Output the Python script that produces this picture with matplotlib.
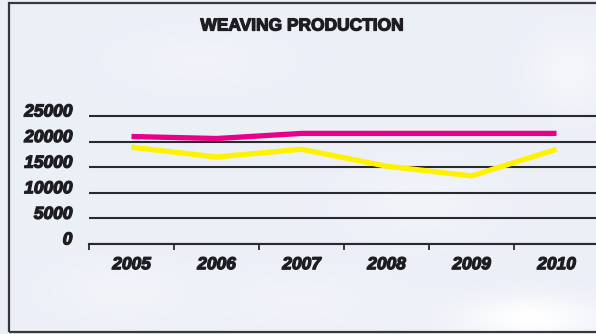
import numpy as np
import matplotlib
matplotlib.use("Agg")
import matplotlib.pyplot as plt
import matplotlib.patheffects as pe
from matplotlib.patches import Rectangle
from matplotlib.transforms import ScaledTranslation

# --- DATA ---
years = ["2005", "2006", "2007", "2008", "2009", "2010"]
series_pink = [21000, 20600, 21600, 21600, 21600, 21600]
series_yellow = [18900, 17000, 18500, 15200, 13300, 18500]
y_ticks = [0, 5000, 10000, 15000, 20000, 25000]
title = "WEAVING PRODUCTION"

W, H, DPI = 596, 334, 100
TXT = "#1e1e22"
heavy = [pe.withStroke(linewidth=0.9, foreground=TXT)]

fig = plt.figure(figsize=(W / DPI, H / DPI), dpi=DPI)

# --- sky-like background with a few soft cloud patches ---
bg = fig.add_axes([0, 0, 1, 1], zorder=-10)
yy, xx = np.mgrid[0:H, 0:W]
base = np.array([0.925, 0.938, 0.968])
light = np.zeros((H, W))
for cx, cy, sx, sy, a in [(530, 318, 70, 22, 1.0), (570, 70, 40, 40, 0.45),
                          (300, 300, 90, 30, 0.25), (200, 60, 80, 30, 0.25),
                          (420, 200, 70, 40, 0.3), (120, 290, 70, 30, 0.3)]:
    light += a * np.exp(-(((xx - cx) / sx) ** 2 + ((yy - cy) / sy) ** 2))
light = np.clip(light, 0, 1)[..., None]
img = base * (1 - light) + light
bg.imshow(img, extent=[0, W, H, 0], aspect="auto")
bg.set_xlim(0, W)
bg.set_ylim(H, 0)
bg.axis("off")

# outer frame
fig.patches.append(Rectangle((8.5 / W, 2.5 / H), 1.0, (331.5 - 2.5) / H,
                             transform=fig.transFigure, fill=False,
                             edgecolor="#38383c", lw=1.6, zorder=5))

# --- chart area ---
px_per_unit = 128 / 25000
ax_bottom = 244
ax_top = 100
ymax = (ax_bottom - ax_top) / px_per_unit
ax = fig.add_axes([89 / W, (H - ax_bottom) / H, 510 / W, (ax_bottom - ax_top) / H])
ax.patch.set_alpha(0)

x = np.arange(len(years))
ax.plot(x, series_yellow, color="#fff200", lw=3.8,
        solid_capstyle="butt", solid_joinstyle="miter", zorder=3)
ax.plot(x, series_pink, color="#e8008a", lw=3.8,
        solid_capstyle="butt", solid_joinstyle="miter", zorder=3)

ax.set_xlim(-0.5, 5.5)
ax.set_ylim(0, ymax)

for s in ["top", "right", "left"]:
    ax.spines[s].set_visible(False)
ax.spines["bottom"].set_color("#2a2a2e")
ax.spines["bottom"].set_linewidth(1.5)

ax.set_yticks(y_ticks)
ax.set_yticklabels([str(v) for v in y_ticks])
ax.yaxis.grid(True, color="#2a2a2e", lw=1.5)
ax.tick_params(axis="y", length=0, pad=12)
for lbl in ax.get_yticklabels():
    lbl.set_transform(lbl.get_transform() + ScaledTranslation(0, 4 / 72, fig.dpi_scale_trans))

ax.set_xticks(x)
ax.set_xticklabels(years)
ax.set_xticks(np.arange(-0.5, 6, 1), minor=True)
ax.tick_params(axis="x", which="major", length=0, pad=9.5)
ax.tick_params(axis="x", which="minor", length=4, width=1.3, color="#2a2a2e")

for lbl in ax.get_yticklabels() + ax.get_xticklabels():
    lbl.set_fontfamily("Liberation Sans")
    lbl.set_fontweight("bold")
    lbl.set_fontstyle("italic")
    lbl.set_fontsize(12.5)
    lbl.set_color(TXT)
    lbl.set_path_effects(heavy)

fig.text(302 / W, 1 - 26 / H, title, ha="center", va="center",
         fontfamily="Liberation Sans", fontweight="bold", fontsize=12.5,
         color=TXT, path_effects=heavy)

fig.savefig("out.png", dpi=DPI)
